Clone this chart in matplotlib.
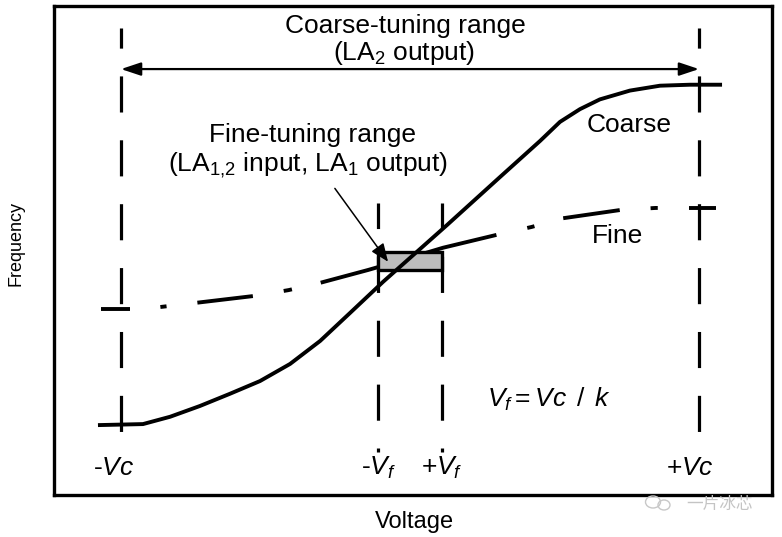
import numpy as np
import matplotlib
matplotlib.use("Agg")
import matplotlib.pyplot as plt
from matplotlib.patches import Rectangle, FancyArrowPatch, Ellipse

plt.rcParams['font.family'] = ['Liberation Sans', 'Noto Sans CJK SC', 'DejaVu Sans']
plt.rcParams['mathtext.fontset'] = 'custom'
plt.rcParams['mathtext.rm'] = 'Liberation Sans'
plt.rcParams['mathtext.it'] = 'Liberation Sans:italic'

# voltage in units of Vc, frequency in arbitrary units (0..100)
vc = 1.0
vf = 0.11

coarse_v = [-1.073, -0.924, -0.830, -0.727, -0.623, -0.519, -0.415, -0.311, -0.208, -0.093,
            0.128, 0.311, 0.450, 0.519, 0.588, 0.657, 0.761, 0.865, 0.969, 1.073]
coarse_f = [14.2, 14.4, 15.9, 18.1, 20.6, 23.2, 26.7, 31.4, 37.1, 43.5,
            55.1, 64.9, 72.3, 76.2, 78.8, 80.8, 82.6, 83.6, 83.8, 83.8]

fine_v = [-1.07, -0.97, -0.87, -0.74, -0.54, -0.42, -0.31, -0.17, -0.11, 0.11,
          0.30, 0.42, 0.53, 0.73, 0.85, 1.06]
fine_f = [37.9, 37.9, 38.3, 39.2, 40.6, 41.8, 43.3, 45.5, 46.5, 50.4,
          53.1, 54.7, 56.5, 58.2, 58.6, 58.6]

# dash-dot pieces of the fine curve (voltage intervals)
fine_pieces = [(-1.073, -0.969), (-0.865, -0.841), (-0.737, -0.543), (-0.439, -0.408),
               (-0.311, 0.301), (0.405, 0.433), (0.529, 0.727), (0.831, 0.858),
               (0.962, 1.062)]

box_f = (45.9, 49.6)

fig = plt.figure(figsize=(7.82, 5.37), dpi=100)
ax = fig.add_axes([53.5 / 782, 42.5 / 537, 718.5 / 782, 489 / 537])
ax.set_xlim(-1.2336, 1.2526)
ax.set_ylim(0, 100)
ax.set_xticks([])
ax.set_yticks([])
for s in ax.spines.values():
    s.set_linewidth(2.4)

# vertical dashed markers
for x in (-vc, vc):
    ax.plot([x, x], [95.4, 8.7], color='black', lw=2.3,
            linestyle=(5.0, (11.3, 8.7)), solid_capstyle='butt')
for x in (-vf, vf):
    ax.plot([x, x], [59.6, 8.7], color='black', lw=2.3,
            linestyle=(3.3, (11.3, 8.7)), solid_capstyle='butt')

# fine curve (dash-dot)
vv = np.linspace(fine_v[0], fine_v[-1], 600)
ff = np.interp(vv, fine_v, fine_f)
for a, b in fine_pieces:
    m = (vv >= a) & (vv <= b)
    ax.plot(vv[m], ff[m], color='black', lw=2.8, solid_capstyle='butt', zorder=2)

# fine-tuning box
ax.add_patch(Rectangle((-vf, box_f[0]), 2 * vf, box_f[1] - box_f[0],
                       facecolor='#bdbdbd', edgecolor='black', lw=2.4, zorder=3))

# coarse curve
ax.plot(coarse_v, coarse_f, color='black', lw=2.8, solid_joinstyle='round', zorder=4)

# coarse range arrow
ax.add_patch(FancyArrowPatch((-vc, 87.0), (vc, 87.0),
                             arrowstyle='<|-|>,head_length=12,head_width=4',
                             color='black', lw=1.6, shrinkA=0, shrinkB=0,
                             mutation_scale=1, zorder=5))
# fine range arrow
ax.add_patch(FancyArrowPatch((-0.26, 62.6), (-0.076, 47.6),
                             arrowstyle='-|>,head_length=11,head_width=4.5',
                             color='black', lw=1.1, shrinkA=0, shrinkB=0,
                             mutation_scale=1, zorder=5))

fs = 19
ax.text(-0.016, 94.4, 'Coarse-tuning range', ha='center', va='baseline', fontsize=fs)
ax.text(-0.02, 88.8, '(LA$_2$ output)', ha='center', va='baseline', fontsize=fs)
ax.text(-0.337, 72.1, 'Fine-tuning range', ha='center', va='baseline', fontsize=fs)
ax.text(-0.353, 66.0, '(LA$_{1{,}2}$ input, LA$_1$ output)', ha='center', va='baseline', fontsize=fs)
ax.text(0.612, 74.1, 'Coarse', ha='left', va='baseline', fontsize=fs)
ax.text(0.630, 51.4, 'Fine', ha='left', va='baseline', fontsize=fs)
ax.text(0.266, 17.9, '$V_f = Vc\\ \\,/\\ \\,k$', ha='left', va='baseline', fontsize=fs)

ax.text(-vc - 0.025, 4.0, '-$Vc$', ha='center', va='baseline', fontsize=fs)
ax.text(vc - 0.03, 4.0, '+$Vc$', ha='center', va='baseline', fontsize=fs)
ax.text(-vf, 4.0, '-$V_f$', ha='center', va='baseline', fontsize=fs)
ax.text(vf, 4.0, '+$V_f$', ha='center', va='baseline', fontsize=fs)

fig.text(16 / 782, 1 - 244 / 537, 'Frequency', rotation=90, ha='center', va='center', fontsize=13)
fig.text(414 / 782, 1 - 522 / 537, 'Voltage', ha='center', va='center', fontsize=17)

# watermark
fig.text(720 / 782, 1 - 504 / 537, '一片冰芯', ha='center', va='center', fontsize=12,
         color='#c4c4c4', family=['Noto Sans CJK SC', 'DejaVu Sans'])
fig.add_artist(Ellipse((653 / 782, 1 - 502 / 537), 15 / 782, 12 / 537,
                       transform=fig.transFigure, fill=False, ec='#c8c8c8', lw=1))
fig.add_artist(Ellipse((664 / 782, 1 - 505 / 537), 12 / 782, 10 / 537,
                       transform=fig.transFigure, fill=False, ec='#c8c8c8', lw=1))

fig.savefig('out.png', dpi=100)
